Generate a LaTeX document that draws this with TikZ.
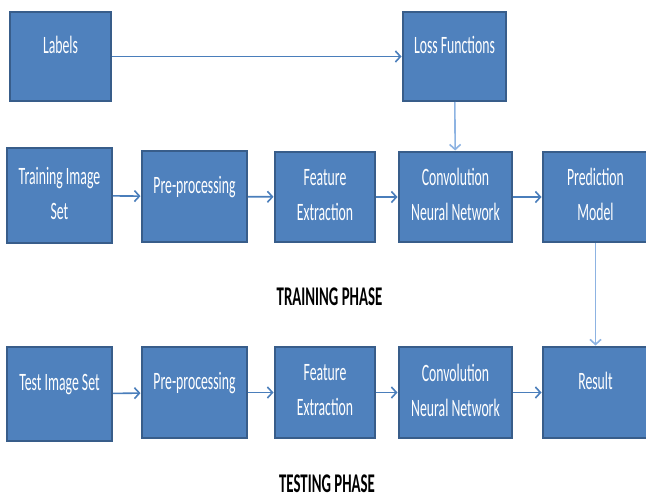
\documentclass[tikz,border=0pt]{standalone}
\usepackage{fontspec}
\setmainfont{Carlito}[FakeStretch=0.55]
\usetikzlibrary{arrows.meta,positioning}
\definecolor{boxblue}{HTML}{4F81BD}
\definecolor{boxedge}{HTML}{385D8A}
\definecolor{arrowblue}{HTML}{4A7EBB}
\definecolor{arrowlight}{HTML}{8DB3E2}

\begin{document}
\begin{tikzpicture}[x=1pt, y=-1pt, > = {Straight Barb[length=5pt,width=11pt]}, shorten > = 0.5pt]
                       \tikzstyle{block}=[rectangle, draw=boxedge, line width=2pt, fill=boxblue, text=white, align=center, inner sep=0pt, font=\fontsize{25}{35}\selectfont]
                       \tikzstyle{oneline}=[text height=18pt, text depth=25pt]
                       \tikzstyle{twoline}=[text depth=5pt]
                       \tikzstyle{phase}=[anchor=base, font=\fontsize{27}{30}\selectfont\bfseries]
                       \tikzstyle{flow}=[->, draw=arrowblue, line width=1.6pt]
                       \tikzstyle{feed}=[->, draw=arrowlight, line width=1.6pt]

                        \useasboundingbox (0,0) rectangle (646,498);
                        \clip (0,0) rectangle (646,498);

                        % Fase de treino
                        \node[block, oneline, minimum width=101pt, minimum height=89pt] (lbl) at (60.5,56.5) {Labels};
                        \node[block, oneline, minimum width=103pt, minimum height=89pt] (loss) at (454.5,56.5) {Loss Functions};
                        \node[block, twoline, minimum width=105pt, minimum height=95pt] (trainset) at (59.5,195.5) {Training Image\\Set};
                        \node[block, oneline, minimum width=105pt, minimum height=91pt] (trainpre) at (194.5,196.5) {Pre-processing};
                        \node[block, twoline, minimum width=100pt, minimum height=90pt] (trainfeat) at (325,197) {Feature\\Extraction};
                        \node[block, twoline, minimum width=113pt, minimum height=90pt] (traincnn) at (455.5,197) {Convolution\\Neural Network};
                        \node[block, twoline, minimum width=105pt, minimum height=90pt] (predmodel) at (595.5,197) {Prediction\\Model};
                        \node[phase] (trainphase) at (329.5,305) {TRAINING PHASE};

                        % Fase de teste
                        \node[block, oneline, minimum width=105pt, minimum height=94pt] (testset) at (59.5,394) {Test Image Set};
                        \node[block, oneline, minimum width=105pt, minimum height=91pt] (testpre) at (194.5,392.5) {Pre-processing};
                        \node[block, twoline, minimum width=100pt, minimum height=91pt] (testfeat) at (325,392.5) {Feature\\Extraction};
                        \node[block, twoline, minimum width=113pt, minimum height=91pt] (testcnn) at (455.5,392.5) {Convolution\\Neural Network};
                        \node[block, oneline, minimum width=105pt, minimum height=91pt] (result) at (595.5,392.5) {Result};
                        \node[phase] (testphase) at (327,492) {TESTING PHASE};

                        % Setas
                        \draw[flow] (lbl) -- (loss);
                        \draw[feed] (loss) -- (traincnn);
                        \draw[flow] (trainset) -- (trainpre);
                        \draw[flow] (trainpre) -- (trainfeat);
                        \draw[flow] (trainfeat) -- (traincnn);
                        \draw[flow] (traincnn) -- (predmodel);
                        \draw[feed] (predmodel) -- (result);
                        \draw[flow] (testset) -- (testpre);
                        \draw[flow] (testpre) -- (testfeat);
                        \draw[flow] (testfeat) -- (testcnn);
                        \draw[flow] (testcnn) -- (result);
                  \end{tikzpicture}
\end{document}
